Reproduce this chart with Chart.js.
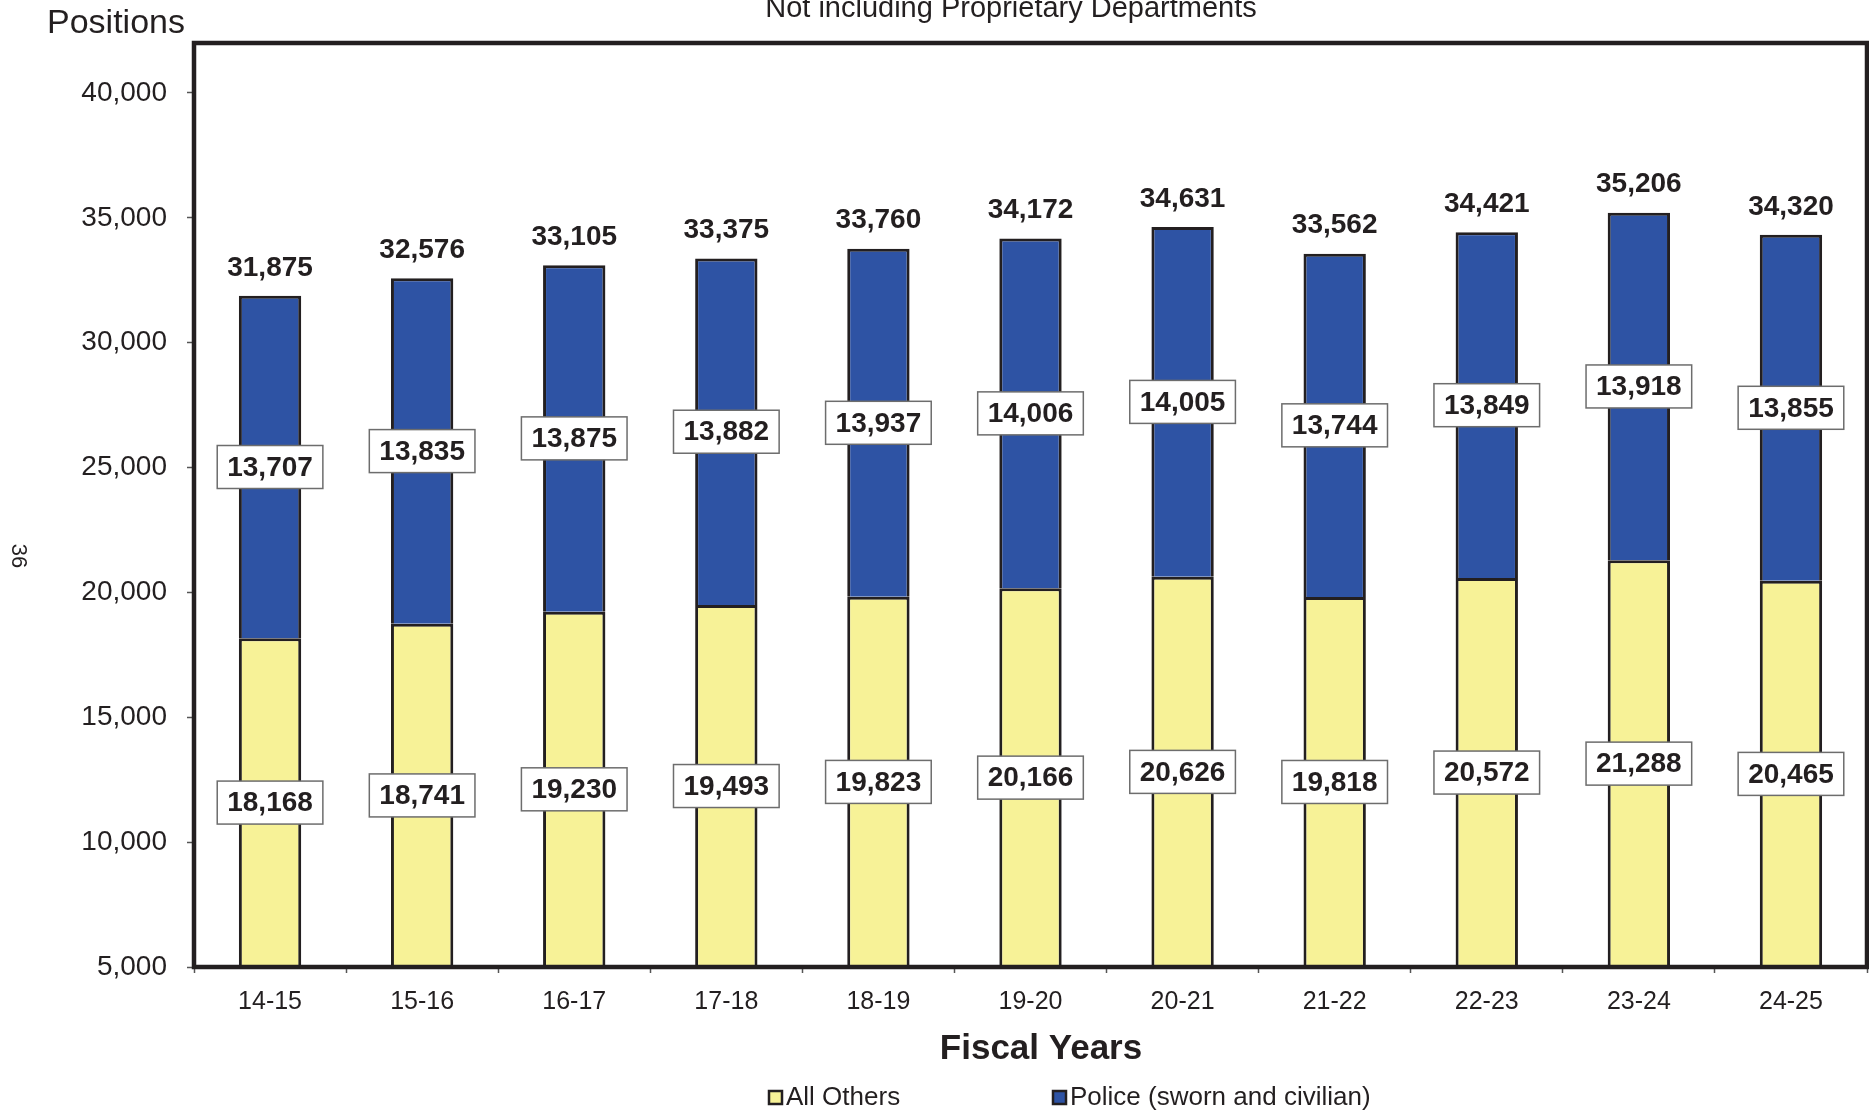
<!DOCTYPE html>
<html>
<head>
<meta charset="utf-8">
<script src="https://cdn.jsdelivr.net/npm/chart.js@4.4.1/dist/chart.umd.min.js"></script>
<style>
  html, body { margin: 0; padding: 0; background: #fff; }
  #wrap { width: 1869px; height: 1112px; position: relative; }
</style>
</head>
<body>
<div id="wrap"><canvas id="chart"></canvas></div>
<script>
// fiscal years on the x axis
const fiscalYears = ["14-15", "15-16", "16-17", "17-18", "18-19", "19-20", "20-21", "21-22", "22-23", "23-24", "24-25"];
// positions per series
const allOthers = [18168, 18741, 19230, 19493, 19823, 20166, 20626, 19818, 20572, 21288, 20465];
const police = [13707, 13835, 13875, 13882, 13937, 14006, 14005, 13744, 13849, 13918, 13855];
const totals = [31875, 32576, 33105, 33375, 33760, 34172, 34631, 33562, 34421, 35206, 34320];
const seriesNames = ["All Others", "Police (sworn and civilian)"];
// y axis ticks
const yTicks = [5000, 10000, 15000, 20000, 25000, 30000, 35000, 40000];

const FONT = "'Liberation Sans', Arial, Helvetica, sans-serif";
const INK = "#231f20";
const YELLOW = "#f7f297";
const BLUE = "#2e53a4";

function fmt(n) {
  return n.toLocaleString("en-US");
}

// frame around plot, value labels, page texts and legend
const decorPlugin = {
  id: "decor",
  afterDatasetsDraw(chart) {
    const ctx = chart.ctx;
    const area = chart.chartArea;
    const yScale = chart.scales.y;
    const yMin = yScale.min;

    ctx.save();
    // frame
    ctx.strokeStyle = INK;
    ctx.lineWidth = 4.5;
    ctx.strokeRect(area.left, area.top, area.right - area.left, area.bottom - area.top);

    ctx.font = "bold 28px " + FONT;
    ctx.textAlign = "center";
    ctx.textBaseline = "middle";

    const meta0 = chart.getDatasetMeta(0);
    const meta1 = chart.getDatasetMeta(1);
    for (let i = 0; i < fiscalYears.length; i++) {
      const x = meta0.data[i].x;
      const lo = Math.max(yMin, 0);
      const mid1 = yScale.getPixelForValue((lo + allOthers[i]) / 2);
      const mid2 = yScale.getPixelForValue(allOthers[i] + police[i] / 2);
      [[allOthers[i], mid1], [police[i], mid2]].forEach(function (p) {
        const txt = fmt(p[0]);
        const w = ctx.measureText(txt).width + 20;
        const h = 43;
        ctx.fillStyle = "#fff";
        ctx.fillRect(x - w / 2, p[1] - h / 2, w, h);
        ctx.strokeStyle = "#6d6d6d";
        ctx.lineWidth = 1.5;
        ctx.strokeRect(x - w / 2, p[1] - h / 2, w, h);
        ctx.fillStyle = INK;
        ctx.fillText(txt, x, p[1] + 1);
      });
      const topY = meta1.data[i].y;
      ctx.fillStyle = INK;
      ctx.fillText(fmt(totals[i]), x, topY - 28);
    }
    ctx.restore();
  },
  afterDraw(chart) {
    const ctx = chart.ctx;
    ctx.save();
    ctx.fillStyle = INK;
    ctx.textBaseline = "alphabetic";

    ctx.font = "34px " + FONT;
    ctx.textAlign = "left";
    ctx.fillText("Positions", 47, 33);

    ctx.font = "29px " + FONT;
    ctx.textAlign = "center";
    ctx.fillText("Not including Proprietary Departments", 1011, 17);

    // axis title
    ctx.font = "bold 35px " + FONT;
    ctx.textBaseline = "middle";
    ctx.fillText("Fiscal Years", 1041, 1049);

    // page number, rotated
    ctx.save();
    ctx.translate(18, 556);
    ctx.rotate(Math.PI / 2);
    ctx.font = "22px " + FONT;
    ctx.fillText("36", 0, 0);
    ctx.restore();

    // legend
    const legendX = [769, 1053];
    const colors = [YELLOW, BLUE];
    ctx.font = "26px " + FONT;
    ctx.textAlign = "left";
    ctx.textBaseline = "middle";
    for (let k = 0; k < seriesNames.length; k++) {
      ctx.fillStyle = colors[k];
      ctx.fillRect(legendX[k], 1091, 13, 13);
      ctx.strokeStyle = INK;
      ctx.lineWidth = 2.5;
      ctx.strokeRect(legendX[k], 1091, 13, 13);
      ctx.fillStyle = INK;
      ctx.fillText(seriesNames[k], legendX[k] + 17, 1098);
    }
    ctx.restore();
  }
};

new Chart(document.getElementById("chart"), {
  type: "bar",
  data: {
    labels: fiscalYears,
    datasets: [
      {
        label: seriesNames[0],
        data: allOthers,
        backgroundColor: YELLOW,
        borderColor: INK,
        borderWidth: 3,
        categoryPercentage: 1,
        barPercentage: 0.41
      },
      {
        label: seriesNames[1],
        data: police,
        backgroundColor: BLUE,
        borderColor: INK,
        borderWidth: 3,
        categoryPercentage: 1,
        barPercentage: 0.41
      }
    ]
  },
  options: {
    responsive: true,
    maintainAspectRatio: false,
    animation: false,
    layout: { padding: { top: 43, right: 2, left: 0, bottom: 0 } },
    plugins: {
      legend: { display: false },
      tooltip: { enabled: false }
    },
    scales: {
      x: {
        stacked: true,
        border: { display: false },
        grid: {
          offset: true,
          drawOnChartArea: false,
          tickLength: 6,
          tickColor: "#555",
          tickWidth: 1.5
        },
        ticks: {
          color: INK,
          font: { family: FONT, size: 25 },
          padding: 14,
          maxRotation: 0,
          autoSkip: false
        },
        afterFit(scale) {
          scale.height = 145;
        }
      },
      y: {
        stacked: true,
        min: 5000,
        max: 42000,
        border: { display: false },
        grid: {
          drawOnChartArea: false,
          tickLength: 7,
          tickColor: "#555",
          tickWidth: 1.5
        },
        ticks: {
          autoSkip: false,
          color: INK,
          font: { family: FONT, size: 28 },
          padding: 20,
          callback: function (v) { return fmt(v); }
        },
        afterBuildTicks(scale) {
          scale.ticks = yTicks.map(function (v) { return { value: v }; });
        },
        afterFit(scale) {
          scale.width = 194;
        }
      }
    }
  },
  plugins: [decorPlugin]
});
</script>
</body>
</html>
